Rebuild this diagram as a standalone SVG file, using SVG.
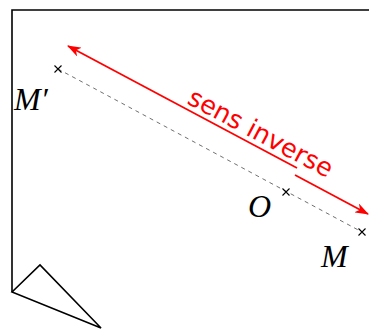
<svg xmlns="http://www.w3.org/2000/svg" width="369" height="329" viewBox="0 0 369 329">
<defs>
<style>
.frame{fill:none;stroke:#000;stroke-width:1.6;stroke-linejoin:miter}
.dash{fill:none;stroke:#707070;stroke-width:1;stroke-dasharray:4 4}
.cross{fill:none;stroke:#000;stroke-width:1.1}
.red{fill:none;stroke:#f00;stroke-width:1.8}
.lbl{font-family:"Liberation Serif",serif;font-style:italic;font-size:32px;fill:#000}
.sens{font-family:"DejaVu Sans",sans-serif;font-size:25.5px;fill:#f00}
</style>
<marker id="ah" viewBox="0 0 14 10" refX="13" refY="5" markerWidth="14" markerHeight="10" markerUnits="userSpaceOnUse" orient="auto-start-reverse">
<path d="M0,0 L14,5 L0,10 L4,5 Z" fill="#f00"/>
</marker>
</defs>
<g id="frame">
<path class="frame" d="M370,10 H12 V292"/>
<path class="frame" d="M12,292 L40,265 L101,328 Z"/>
</g>
<g id="connectors">
<line class="dash" x1="58" y1="69" x2="362" y2="232"/>
<line class="red" x1="68" y1="46" x2="297" y2="168" marker-start="url(#ah)"/>
<line class="red" x1="295" y1="175" x2="368" y2="214" marker-end="url(#ah)"/>
</g>
<g id="Mprime">
<path class="cross" d="M54.5,65.5 l7,7 M61.5,65.5 l-7,7"/>
<text class="lbl" x="14" y="110">M′</text>
</g>
<g id="O">
<path class="cross" d="M282.5,188.5 l7,7 M289.5,188.5 l-7,7"/>
<text class="lbl" x="248" y="217">O</text>
</g>
<g id="M">
<path class="cross" d="M358.5,228.5 l7,7 M365.5,228.5 l-7,7"/>
<text class="lbl" x="321" y="267">M</text>
</g>
<g id="label">
<text class="sens" transform="translate(186,103) rotate(28)">sens inverse</text>
</g>
</svg>
